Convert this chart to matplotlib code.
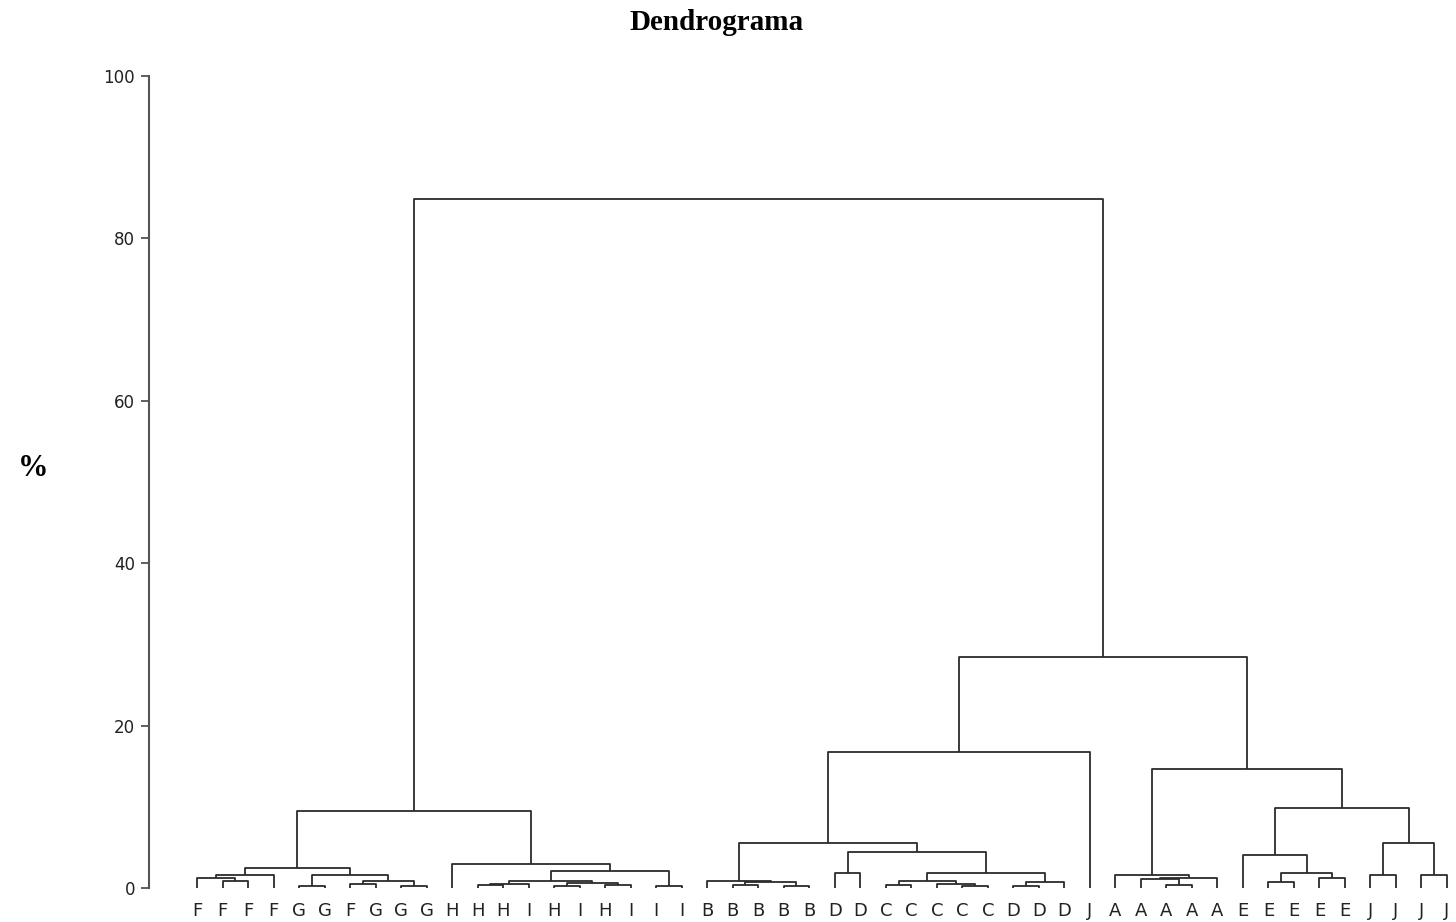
import matplotlib
matplotlib.use("Agg")
import matplotlib.pyplot as plt

# Leaf labels, left to right
leaf_labels = ["F", "F", "F", "F", "G", "G", "F", "G", "G", "G",
               "H", "H", "H", "I", "H", "I", "H", "I", "I", "I",
               "B", "B", "B", "B", "B", "D", "D", "C", "C", "C",
               "C", "C", "D", "D", "D", "J",
               "A", "A", "A", "A", "A", "E", "E", "E", "E", "E",
               "J", "J", "J", "J"]

# Merges: ids < 50 are leaves, merge k creates node 50 + k
merge_left = [1, 0, 51, 4, 6, 8, 54, 53, 52,
              11, 59, 14, 16, 61, 60, 18, 64, 10, 58,
              21, 23, 69, 20, 25, 27, 30, 29, 74, 32, 78, 77, 73, 72, 82,
              38, 37, 85, 36, 42, 44, 88, 41, 46, 48, 92, 91, 87, 83, 68]
merge_right = [2, 50, 3, 5, 7, 9, 55, 56, 57,
               12, 13, 15, 17, 62, 63, 19, 65, 66, 67,
               22, 24, 70, 71, 26, 28, 31, 75, 76, 33, 34, 79, 80, 81, 35,
               39, 84, 40, 86, 43, 45, 89, 90, 47, 49, 93, 94, 95, 96, 97]
merge_height = [0.92, 1.17, 1.62, 0.3, 0.55, 0.2, 0.85, 1.66, 2.49,
                0.35, 0.55, 0.27, 0.35, 0.6, 0.86, 0.2, 2.1, 3.0, 9.46,
                0.43, 0.27, 0.68, 0.84, 1.9, 0.35, 0.3, 0.5, 0.84, 0.25, 0.74,
                1.79, 4.46, 5.56, 16.8,
                0.37, 1.1, 1.27, 1.6, 0.68, 1.25, 1.9, 4.04, 1.58, 1.58, 5.6,
                9.88, 14.7, 28.5, 84.9]

n_leaves = len(leaf_labels)
node_x = {i: float(i) for i in range(n_leaves)}
node_h = {i: 0.0 for i in range(n_leaves)}

fig = plt.figure(figsize=(14.56, 9.22), dpi=100)
W, H = 1456, 922
ax = fig.add_axes([149 / W, 34 / H, (W - 149) / W, (888 - 76) / H])

line_kw = dict(color="#2b2b2b", lw=1.3, solid_capstyle="butt", clip_on=False)
for k, (a, b, h) in enumerate(zip(merge_left, merge_right, merge_height)):
    xa, xb = node_x[a], node_x[b]
    ax.plot([xa, xa, xb, xb], [node_h[a], h, h, node_h[b]], **line_kw)
    node_x[n_leaves + k] = (xa + xb) / 2
    node_h[n_leaves + k] = h

# leaf spacing 25.51 px, first leaf at x=197 px
step = 25.51
ax.set_xlim((149 - 197) / step, (W - 197) / step)
ax.set_ylim(0, 100)

for s in ["top", "right", "bottom"]:
    ax.spines[s].set_visible(False)
ax.spines["left"].set_color("#555555")
ax.spines["left"].set_linewidth(1.5)

ax.set_yticks([0, 20, 40, 60, 80, 100])
ax.tick_params(axis="y", length=6, width=1.2, color="#444444", pad=4,
               labelsize=12, labelcolor="#222222")
ax.set_xticks(range(n_leaves))
ax.set_xticklabels(leaf_labels, fontsize=13, color="#222222")
ax.tick_params(axis="x", length=0, pad=10)

fig.text(717 / W, 1 - 23 / H, "Dendrograma", ha="center", va="center",
         fontsize=21, fontweight="bold", family="Liberation Serif")
fig.text(33 / W, 1 - 468 / H, "%", ha="center", va="center",
         fontsize=22, fontweight="bold", family="Liberation Serif")

fig.savefig("out.png", dpi=100)
